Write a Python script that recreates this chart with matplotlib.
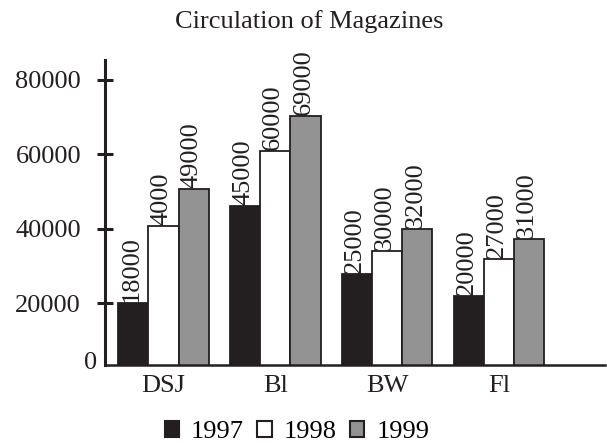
import matplotlib
matplotlib.use("Agg")
import matplotlib.pyplot as plt
from matplotlib.patches import Patch
import numpy as np

plt.rcParams['font.family'] = ['Liberation Serif', 'DejaVu Serif']

categories = ['DSJ', 'Bl', 'BW', 'Fl']
years = ['1997', '1998', '1999']
# bar heights as drawn in the picture
values_1997 = [20200, 46100, 27800, 22000]
values_1998 = [40700, 60900, 34000, 31800]
values_1999 = [50600, 70300, 40000, 37300]
# printed data labels
labels_1997 = ['18000', '45000', '25000', '20000']
labels_1998 = ['4000', '60000', '30000', '27000']
labels_1999 = ['49000', '69000', '32000', '31000']
yticks = [20000, 40000, 60000, 80000]
ytick_labels = ['20000', '40000', '60000', '80000']

colors = ['#231f20', '#ffffff', '#939393']

fig = plt.figure(figsize=(6.07, 4.43), dpi=100)
ax = fig.add_axes([105/607, 78/443, 500/607, 305/443])

x = np.arange(len(categories))
w = 0.27
series = [values_1997, values_1998, values_1999]
labs = [labels_1997, labels_1998, labels_1999]
fs = 19
for i, (vals, lab) in enumerate(zip(series, labs)):
    pos = x + (i - 1) * w
    ax.bar(pos, vals, width=w, color=colors[i], edgecolor='#231f20',
           linewidth=1.3, zorder=2)
    for p, v, t in zip(pos, vals, lab):
        ax.annotate(t, xy=(p, v), xytext=(-2, 1), textcoords='offset pixels',
                    rotation=90, ha='center', va='bottom', fontsize=fs,
                    color='#231f20')

ax.set_xlim(-0.524, 3.95)
ax.set_ylim(3485, 85260)
ax.set_yticks(yticks)
ax.set_yticklabels(ytick_labels, fontsize=fs, color='#231f20')
ax.tick_params(axis='y', direction='inout', length=11.5, width=2.2,
               color='#231f20', pad=11.5)
ax.set_xticks(x)
ax.set_xticklabels(categories, fontsize=fs, color='#231f20')
ax.tick_params(axis='x', length=0, pad=7)
ax.annotate('0', xy=(0, 0), xycoords='axes fraction', xytext=(-8, 2),
            textcoords='offset pixels', ha='right', va='center',
            fontsize=fs, color='#231f20')

for s in ['top', 'right']:
    ax.spines[s].set_visible(False)
ax.spines['left'].set_linewidth(2.2)
ax.spines['left'].set_color('#231f20')
ax.spines['bottom'].set_linewidth(1.8)
ax.spines['bottom'].set_color('#231f20')
ax.set_facecolor('white')

fig.text(309/607, 1 - 22/443, 'Circulation of Magazines', ha='center',
         va='center', fontsize=19, color='#231f20')

handles = [Patch(facecolor=colors[i], edgecolor='#231f20', linewidth=1.5,
                 label=years[i]) for i in range(3)]
fig.legend(handles=handles, loc='center', bbox_to_anchor=(297/607, 11/443),
           ncol=3, frameon=False, fontsize=fs, handlelength=0.55,
           handleheight=0.55, handletextpad=0.45, columnspacing=0.5,
           borderpad=0, borderaxespad=0)

fig.savefig('out.png', dpi=100)
